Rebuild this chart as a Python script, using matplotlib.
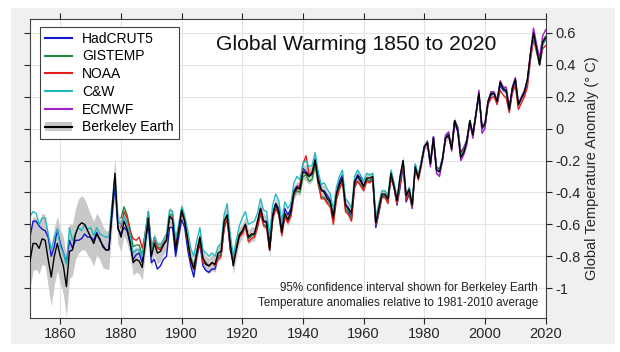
import numpy as np
import matplotlib
matplotlib.use("Agg")
import matplotlib.pyplot as plt
from matplotlib.patches import Patch, Rectangle
from matplotlib.lines import Line2D

plt.rcParams['font.family'] = ['Liberation Sans', 'DejaVu Sans']
plt.rcParams['axes.unicode_minus'] = False

# Jahre
years = np.arange(1850, 2021)

# HadCRUT5 1850-2020
hadcrut5 = [
    -0.68, -0.58, -0.58, -0.61, -0.63, -0.64, -0.68, -0.80, -0.74, -0.63,  # 1850
    -0.72, -0.78, -0.84, -0.70, -0.75, -0.70, -0.70, -0.69, -0.66, -0.68,  # 1860
    -0.68, -0.70, -0.65, -0.70, -0.73, -0.76, -0.76, -0.55, -0.36, -0.63,  # 1870
    -0.66, -0.62, -0.64, -0.72, -0.82, -0.79, -0.78, -0.84, -0.70, -0.60,  # 1880
    -0.84, -0.82, -0.88, -0.86, -0.82, -0.80, -0.62, -0.62, -0.80, -0.68,  # 1890
    -0.57, -0.62, -0.76, -0.86, -0.93, -0.80, -0.72, -0.86, -0.89, -0.90,  # 1900
    -0.88, -0.88, -0.80, -0.79, -0.62, -0.55, -0.76, -0.84, -0.74, -0.67,  # 1910
    -0.65, -0.60, -0.69, -0.67, -0.66, -0.60, -0.50, -0.58, -0.58, -0.72,  # 1920
    -0.53, -0.47, -0.50, -0.64, -0.50, -0.54, -0.50, -0.39, -0.36, -0.37,  # 1930
    -0.25, -0.27, -0.29, -0.29, -0.19, -0.29, -0.39, -0.39, -0.42, -0.45,  # 1940
    -0.55, -0.40, -0.33, -0.29, -0.47, -0.51, -0.56, -0.35, -0.29, -0.31,  # 1950
    -0.37, -0.32, -0.33, -0.31, -0.62, -0.53, -0.42, -0.43, -0.45, -0.31,  # 1960
    -0.37, -0.48, -0.37, -0.24, -0.46, -0.41, -0.50, -0.23, -0.30, -0.21,  # 1970
    -0.12, -0.08, -0.22, -0.05, -0.24, -0.26, -0.19, -0.05, -0.03, -0.12,  # 1980
    0.05, 0.01, -0.15, -0.12, -0.07, 0.04, -0.03, 0.09, 0.22, 0.00,        # 1990
    0.02, 0.16, 0.21, 0.22, 0.16, 0.27, 0.24, 0.23, 0.12, 0.24,            # 2000
    0.30, 0.15, 0.19, 0.22, 0.29, 0.46, 0.59, 0.49, 0.42, 0.53,            # 2010
    0.56,
]

# GISTEMP 1880-2020
gistemp = [
    -0.56, -0.49, -0.54, -0.63, -0.74, -0.73, -0.73, -0.80, -0.65, -0.52,  # 1880
    -0.76, -0.68, -0.74, -0.75, -0.72, -0.69, -0.54, -0.54, -0.72, -0.62,  # 1890
    -0.52, -0.58, -0.71, -0.81, -0.86, -0.76, -0.68, -0.82, -0.84, -0.86,  # 1900
    -0.84, -0.85, -0.80, -0.79, -0.61, -0.55, -0.72, -0.83, -0.73, -0.66,  # 1910
    -0.64, -0.60, -0.69, -0.67, -0.67, -0.61, -0.53, -0.60, -0.61, -0.76,  # 1920
    -0.56, -0.49, -0.53, -0.66, -0.54, -0.58, -0.54, -0.42, -0.39, -0.40,  # 1930
    -0.30, -0.29, -0.33, -0.32, -0.23, -0.35, -0.43, -0.43, -0.46, -0.47,  # 1940
    -0.57, -0.43, -0.36, -0.32, -0.50, -0.53, -0.56, -0.36, -0.33, -0.35,  # 1950
    -0.38, -0.32, -0.33, -0.31, -0.60, -0.52, -0.42, -0.42, -0.46, -0.30,  # 1960
    -0.36, -0.47, -0.33, -0.21, -0.44, -0.39, -0.49, -0.24, -0.31, -0.22,  # 1970
    -0.12, -0.08, -0.22, -0.06, -0.25, -0.26, -0.19, -0.06, -0.04, -0.12,  # 1980
    0.05, 0.01, -0.17, -0.14, -0.08, 0.05, -0.04, 0.08, 0.21, 0.01,        # 1990
    0.03, 0.17, 0.23, 0.22, 0.17, 0.29, 0.25, 0.24, 0.12, 0.25,            # 2000
    0.31, 0.16, 0.19, 0.23, 0.30, 0.46, 0.59, 0.50, 0.42, 0.55,            # 2010
    0.58,
]

# NOAA 1880-2020
noaa = [
    -0.62, -0.52, -0.56, -0.64, -0.69, -0.70, -0.68, -0.75, -0.66, -0.53,  # 1880
    -0.74, -0.70, -0.75, -0.76, -0.72, -0.70, -0.56, -0.55, -0.73, -0.62,  # 1890
    -0.53, -0.58, -0.71, -0.83, -0.88, -0.79, -0.70, -0.84, -0.85, -0.86,  # 1900
    -0.84, -0.86, -0.82, -0.80, -0.62, -0.57, -0.74, -0.84, -0.76, -0.68,  # 1910
    -0.66, -0.61, -0.71, -0.69, -0.68, -0.62, -0.53, -0.61, -0.62, -0.76,  # 1920
    -0.57, -0.50, -0.54, -0.67, -0.55, -0.59, -0.55, -0.41, -0.38, -0.35,  # 1930
    -0.22, -0.17, -0.29, -0.27, -0.20, -0.32, -0.44, -0.44, -0.47, -0.49,  # 1940
    -0.60, -0.45, -0.38, -0.33, -0.52, -0.54, -0.58, -0.37, -0.33, -0.36,  # 1950
    -0.39, -0.33, -0.34, -0.32, -0.60, -0.52, -0.43, -0.43, -0.47, -0.30,  # 1960
    -0.37, -0.47, -0.34, -0.22, -0.45, -0.40, -0.49, -0.25, -0.32, -0.23,  # 1970
    -0.12, -0.09, -0.22, -0.06, -0.25, -0.26, -0.19, -0.06, -0.05, -0.12,  # 1980
    0.04, 0.00, -0.16, -0.13, -0.08, 0.03, -0.04, 0.09, 0.21, 0.01,        # 1990
    0.02, 0.15, 0.19, 0.20, 0.15, 0.24, 0.21, 0.19, 0.10, 0.22,            # 2000
    0.27, 0.12, 0.16, 0.20, 0.26, 0.43, 0.56, 0.48, 0.40, 0.50,            # 2010
    0.52,
]

# Cowtan & Way 1850-2020
cw = [
    -0.55, -0.52, -0.53, -0.60, -0.56, -0.56, -0.66, -0.76, -0.68, -0.63,  # 1850
    -0.74, -0.78, -0.85, -0.62, -0.70, -0.66, -0.62, -0.64, -0.60, -0.63,  # 1860
    -0.62, -0.67, -0.62, -0.66, -0.67, -0.68, -0.68, -0.48, -0.31, -0.58,  # 1870
    -0.60, -0.55, -0.60, -0.67, -0.78, -0.76, -0.76, -0.80, -0.66, -0.52,  # 1880
    -0.76, -0.68, -0.72, -0.73, -0.70, -0.66, -0.51, -0.52, -0.70, -0.60,  # 1890
    -0.49, -0.55, -0.64, -0.75, -0.80, -0.70, -0.62, -0.76, -0.78, -0.80,  # 1900
    -0.78, -0.80, -0.74, -0.72, -0.54, -0.47, -0.66, -0.80, -0.70, -0.61,  # 1910
    -0.56, -0.52, -0.60, -0.59, -0.58, -0.53, -0.44, -0.51, -0.52, -0.67,  # 1920
    -0.48, -0.41, -0.45, -0.58, -0.46, -0.50, -0.47, -0.34, -0.30, -0.32,  # 1930
    -0.22, -0.20, -0.24, -0.23, -0.15, -0.27, -0.35, -0.34, -0.38, -0.41,  # 1940
    -0.51, -0.37, -0.30, -0.26, -0.44, -0.46, -0.50, -0.30, -0.26, -0.29,  # 1950
    -0.33, -0.28, -0.29, -0.28, -0.55, -0.47, -0.39, -0.39, -0.42, -0.26,  # 1960
    -0.34, -0.44, -0.30, -0.20, -0.42, -0.37, -0.47, -0.22, -0.30, -0.20,  # 1970
    -0.11, -0.08, -0.21, -0.06, -0.25, -0.26, -0.18, -0.05, -0.04, -0.12,  # 1980
    0.05, 0.00, -0.17, -0.14, -0.08, 0.05, -0.04, 0.09, 0.22, 0.01,        # 1990
    0.03, 0.17, 0.22, 0.22, 0.17, 0.29, 0.25, 0.24, 0.12, 0.25,            # 2000
    0.31, 0.15, 0.19, 0.23, 0.30, 0.46, 0.59, 0.49, 0.40, 0.53,            # 2010
    0.56,
]

# ECMWF 1979-2020
ecmwf = [
    -0.21,                                                                  # 1979
    -0.13, -0.08, -0.24, -0.05, -0.28, -0.30, -0.20, -0.04, -0.02, -0.14,  # 1980
    0.03, -0.02, -0.20, -0.16, -0.10, 0.04, -0.06, 0.09, 0.24, -0.03,      # 1990
    0.00, 0.17, 0.23, 0.23, 0.17, 0.30, 0.26, 0.26, 0.13, 0.26,            # 2000
    0.32, 0.15, 0.20, 0.24, 0.31, 0.48, 0.63, 0.53, 0.44, 0.58,            # 2010
    0.62,
]

# Berkeley Earth 1850-2020
berkeley = [
    -0.83, -0.72, -0.72, -0.75, -0.69, -0.70, -0.82, -0.93, -0.80, -0.72,  # 1850
    -0.80, -0.86, -0.99, -0.77, -0.76, -0.66, -0.61, -0.59, -0.60, -0.64,  # 1860
    -0.68, -0.72, -0.66, -0.69, -0.74, -0.76, -0.76, -0.52, -0.28, -0.62,  # 1870
    -0.68, -0.58, -0.63, -0.71, -0.84, -0.82, -0.83, -0.87, -0.72, -0.56,  # 1880
    -0.80, -0.72, -0.78, -0.77, -0.73, -0.70, -0.55, -0.57, -0.76, -0.64,  # 1890
    -0.51, -0.58, -0.70, -0.82, -0.88, -0.78, -0.68, -0.81, -0.85, -0.86,  # 1900
    -0.84, -0.85, -0.78, -0.77, -0.58, -0.54, -0.72, -0.86, -0.76, -0.67,  # 1910
    -0.64, -0.60, -0.68, -0.66, -0.66, -0.58, -0.50, -0.58, -0.59, -0.76,  # 1920
    -0.55, -0.47, -0.52, -0.65, -0.53, -0.57, -0.52, -0.40, -0.37, -0.38,  # 1930
    -0.27, -0.28, -0.30, -0.28, -0.20, -0.33, -0.38, -0.40, -0.44, -0.46,  # 1940
    -0.56, -0.41, -0.35, -0.31, -0.48, -0.50, -0.53, -0.33, -0.30, -0.33,  # 1950
    -0.36, -0.31, -0.31, -0.30, -0.59, -0.50, -0.41, -0.41, -0.44, -0.28,  # 1960
    -0.36, -0.45, -0.30, -0.20, -0.42, -0.38, -0.48, -0.24, -0.31, -0.22,  # 1970
    -0.11, -0.09, -0.22, -0.06, -0.26, -0.27, -0.19, -0.06, -0.04, -0.13,  # 1980
    0.05, -0.01, -0.18, -0.15, -0.08, 0.05, -0.04, 0.09, 0.22, 0.01,       # 1990
    0.03, 0.17, 0.22, 0.22, 0.17, 0.29, 0.25, 0.24, 0.12, 0.25,            # 2000
    0.31, 0.15, 0.19, 0.23, 0.31, 0.47, 0.60, 0.50, 0.40, 0.54,            # 2010
    0.57,
]

# 95%-Unsicherheit (halbe Breite) Berkeley Earth
berkeley_unc = [
    0.17, 0.17, 0.16, 0.16, 0.16, 0.16, 0.17, 0.18, 0.18, 0.17,  # 1850
    0.17, 0.18, 0.19, 0.17, 0.16, 0.16, 0.17, 0.17, 0.16, 0.15,  # 1860
    0.14, 0.14, 0.13, 0.13, 0.13, 0.12, 0.12, 0.11, 0.10, 0.10,  # 1870
    0.09, 0.09, 0.09, 0.08, 0.08, 0.08, 0.08, 0.08, 0.07, 0.07,  # 1880
    0.07, 0.07, 0.07, 0.06, 0.06, 0.06, 0.06, 0.06, 0.06, 0.06,  # 1890
    0.05, 0.05, 0.05, 0.05, 0.05, 0.05, 0.05, 0.05, 0.05, 0.05,  # 1900
    0.05, 0.05, 0.05, 0.05, 0.05, 0.05, 0.05, 0.05, 0.05, 0.05,  # 1910
    0.045, 0.045, 0.045, 0.045, 0.045, 0.045, 0.045, 0.045, 0.045, 0.045,  # 1920
    0.04, 0.04, 0.04, 0.04, 0.04, 0.04, 0.04, 0.04, 0.04, 0.04,  # 1930
    0.045, 0.05, 0.05, 0.05, 0.05, 0.045, 0.04, 0.04, 0.04, 0.04,  # 1940
    0.035, 0.035, 0.035, 0.035, 0.035, 0.035, 0.035, 0.035, 0.035, 0.035,  # 1950
    0.03, 0.03, 0.03, 0.03, 0.03, 0.03, 0.03, 0.03, 0.03, 0.03,  # 1960
    0.03, 0.03, 0.03, 0.03, 0.03, 0.03, 0.03, 0.03, 0.03, 0.03,  # 1970
    0.025, 0.025, 0.025, 0.025, 0.025, 0.025, 0.025, 0.025, 0.025, 0.025,  # 1980
    0.025, 0.025, 0.025, 0.025, 0.025, 0.025, 0.025, 0.025, 0.025, 0.025,  # 1990
    0.02, 0.02, 0.02, 0.02, 0.02, 0.02, 0.02, 0.02, 0.02, 0.02,  # 2000
    0.02, 0.02, 0.02, 0.02, 0.02, 0.02, 0.02, 0.02, 0.02, 0.02,  # 2010
    0.02,
]

x_ticks = [1860, 1880, 1900, 1920, 1940, 1960, 1980, 2000, 2020]
y_ticks = [-1, -0.8, -0.6, -0.4, -0.2, 0, 0.2, 0.4, 0.6]
y_ticklabels = ['-1', '-0.8', '-0.6', '-0.4', '-0.2', '0', '0.2', '0.4', '0.6']

fig = plt.figure(figsize=(6.2, 3.52), dpi=100, facecolor='white')
# grauer Hintergrund wie bei MATLAB
fig.patches.append(Rectangle((0.0177, 0.0227), 0.9743, 0.9543, transform=fig.transFigure,
                             facecolor='#f0f0f0', edgecolor='none', zorder=-10))
ax = fig.add_axes([0.0484, 0.0974, 0.8317, 0.8478])
ax.set_zorder(1)
ax.set_facecolor('white')

bk = np.array(berkeley)
unc = np.array(berkeley_unc)
ax.fill_between(years, bk - unc, bk + unc, color='#c8c8c8', lw=0, zorder=1)

ax.plot(years, hadcrut5, color='#1414c8', lw=1.0, zorder=2)
ax.plot(years[30:], gistemp, color='#1e8a3c', lw=1.0, zorder=2)
ax.plot(years[30:], noaa, color='#e41e1e', lw=1.0, zorder=2)
ax.plot(years, cw, color='#22b8c0', lw=1.0, zorder=2)
ax.plot(years[129:], ecmwf, color='#a020c8', lw=1.0, zorder=2)
ax.plot(years, berkeley, color='black', lw=1.0, zorder=3)

ax.set_xlim(1850, 2020)
ax.set_ylim(-1.185, 0.685)
ax.set_xticks(x_ticks)
ax.set_yticks(y_ticks)
ax.set_yticklabels(y_ticklabels)
ax.grid(True, color='#e4e4e4', lw=0.8)
ax.set_axisbelow(True)
ax.tick_params(axis='x', direction='out', length=4, width=0.8, top=True, bottom=True,
               labelbottom=True, labelsize=10.5, colors='#262626', pad=3)
ax.tick_params(axis='y', direction='out', length=4, width=0.8, left=True, right=True,
               labelleft=False, labelright=True, labelsize=10.5, colors='#262626', pad=3)
for s in ax.spines.values():
    s.set_color('#404040')
    s.set_linewidth(0.8)
ax.yaxis.set_label_position('right')
ax.set_ylabel('Global Temperature Anomaly (° C)', fontsize=10.5, color='#262626', labelpad=3)

ax.text(0.36, 0.897, 'Global Warming 1850 to 2020', transform=ax.transAxes,
        fontsize=15.2, ha='left', va='baseline', color='#111111')
ax.text(0.985, 0.09, '95% confidence interval shown for Berkeley Earth',
        transform=ax.transAxes, fontsize=8.4, ha='right', va='baseline', color='#222222')
ax.text(0.985, 0.04, 'Temperature anomalies relative to 1981-2010 average',
        transform=ax.transAxes, fontsize=8.4, ha='right', va='baseline', color='#222222')

handles = [
    Line2D([], [], color='#1414c8', lw=1.5),
    Line2D([], [], color='#1e8a3c', lw=1.5),
    Line2D([], [], color='#e41e1e', lw=1.5),
    Line2D([], [], color='#22b8c0', lw=1.5),
    Line2D([], [], color='#a020c8', lw=1.5),
    (Patch(facecolor='#c8c8c8', edgecolor='none'), Line2D([], [], color='black', lw=1.5)),
]
labels = ['HadCRUT5', 'GISTEMP', 'NOAA', 'C&W', 'ECMWF', 'Berkeley Earth']
leg = ax.legend(handles, labels, loc='upper left', bbox_to_anchor=(0.019, 0.975),
                borderaxespad=0, fontsize=10, frameon=True, fancybox=False,
                framealpha=1, edgecolor='#404040', handlelength=2.0,
                labelspacing=0.27, borderpad=0.35, handletextpad=0.7)
leg.get_frame().set_linewidth(0.8)

fig.savefig('out.png', dpi=100, facecolor=fig.get_facecolor())
